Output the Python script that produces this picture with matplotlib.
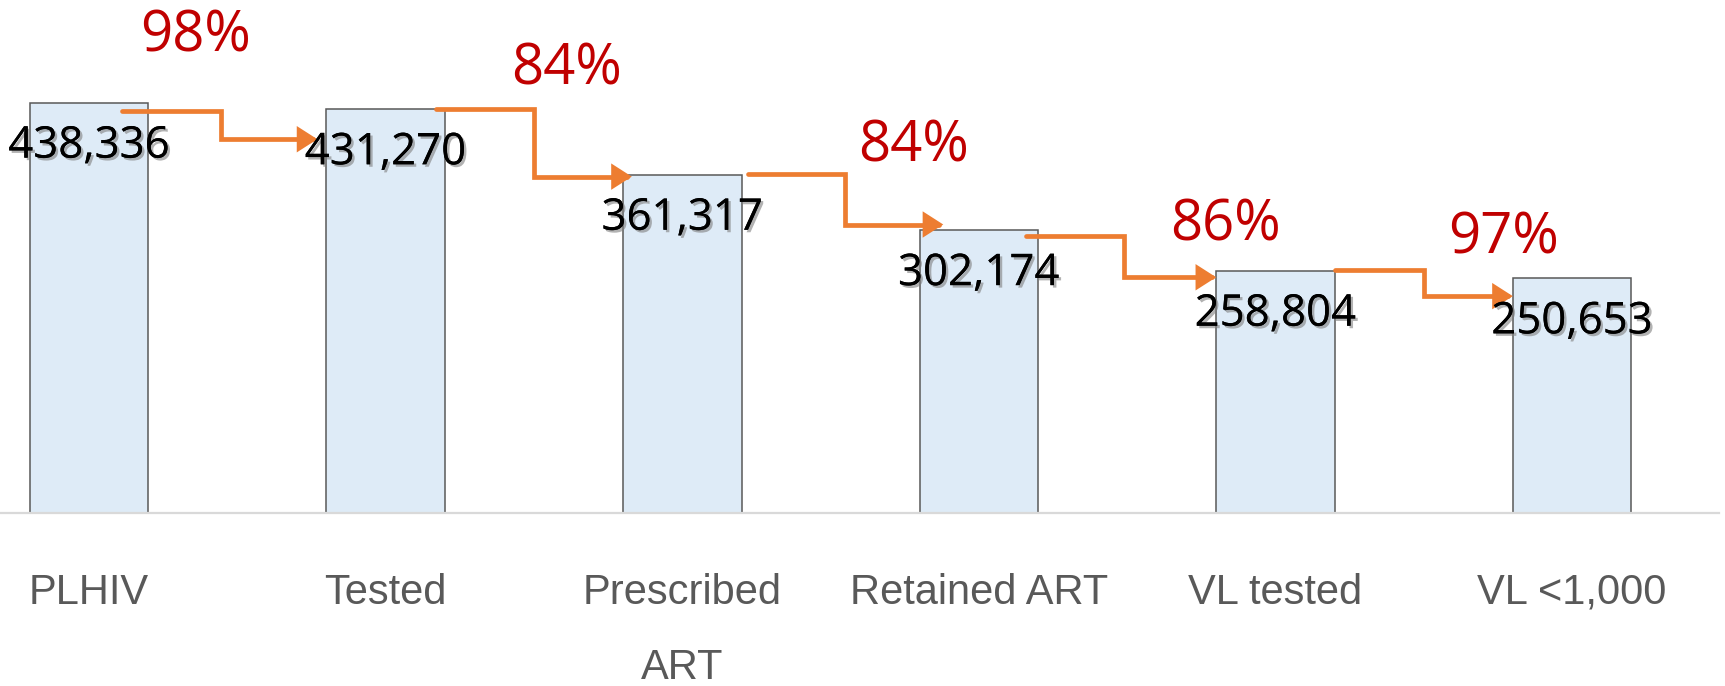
import matplotlib
matplotlib.use("Agg")
import matplotlib.pyplot as plt
import matplotlib.patheffects as pe
from matplotlib.patches import FancyArrowPatch
from matplotlib.path import Path

# ---- data ----
categories = ["PLHIV", "Tested", "Prescribed\nART", "Retained ART", "VL tested", "VL <1,000"]
values = [438336, 431270, 361317, 302174, 258804, 250653]
value_labels = ["438,336", "431,270", "361,317", "302,174", "258,804", "250,653"]
pct_labels = ["98%", "84%", "84%", "86%", "97%"]

# ---- layout tweaks (positions of the step arrows / percentage labels) ----
pct_x = [0.36, 1.61, 2.78, 3.83, 4.77]            # category units
pct_y = [508900, 473600, 391300, 306700, 292600]   # value units
arr_start_dx = [0.11, 0.17, 0.22, 0.16, 0.20]
arr_elbow_dx = [0.445, 0.50, 0.55, 0.49, 0.50]
arr_end_dx = [-0.23, -0.17, -0.12, -0.20, -0.20]
arr_start_dy = [-9000, 0, 1000, -6000, 1000]
arr_end_dy = [-32000, -2000, 6000, -7000, -19000]

BAR_FACE = "#DEEBF7"
BAR_EDGE = "#595959"
ORANGE = "#ED7D31"
RED = "#C00000"
GRAY_TXT = "#595959"

fig = plt.figure(figsize=(17.25, 6.86), dpi=100)
ax = fig.add_axes([0.0, 0.2522, 0.9965, 0.7478])

x = list(range(len(categories)))
ax.bar(x, values, width=0.40, color=BAR_FACE, edgecolor=BAR_EDGE, linewidth=1.1, zorder=2)

ax.set_xlim(-0.30, 5.495)
ax.set_ylim(0, 548000)

for s in ["top", "right", "left"]:
    ax.spines[s].set_visible(False)
ax.spines["bottom"].set_color("#D9D9D9")
ax.spines["bottom"].set_linewidth(1.6)
ax.set_yticks([])
ax.set_xticks(x)
ax.set_xticklabels(categories, fontsize=30, color=GRAY_TXT, family="Liberation Sans",
                   linespacing=2.15)
ax.tick_params(axis="x", length=0, pad=43)

shadow = [pe.withSimplePatchShadow(offset=(1.8, -1.8), shadow_rgbFace="#7f7f7f", alpha=0.6),
          pe.Normal()]
for xi, v, lab in zip(x, values, value_labels):
    ax.annotate(lab, xy=(xi, v), xytext=(0, -31.5), textcoords="offset points",
                ha="center", va="center", fontsize=31.5, family="Open Sans",
                color="black", path_effects=shadow, zorder=5)

for px, py, lab in zip(pct_x, pct_y, pct_labels):
    ax.text(px, py, lab, ha="center", va="center", fontsize=40.5, family="Open Sans",
            color=RED, zorder=5)

for i in range(len(values) - 1):
    xs = i + arr_start_dx[i]
    xe = i + arr_elbow_dx[i]
    xend = i + 1 + arr_end_dx[i]
    ys = values[i] + arr_start_dy[i]
    ye = values[i + 1] + arr_end_dy[i]
    path = Path([(xs, ys), (xe, ys), (xe, ye), (xend, ye)],
                [Path.MOVETO, Path.LINETO, Path.LINETO, Path.LINETO])
    arr = FancyArrowPatch(path=path, arrowstyle="-|>,head_length=0.5,head_width=0.32",
                          color=ORANGE, linewidth=3.4, mutation_scale=20,
                          joinstyle="miter", zorder=4)
    ax.add_patch(arr)

fig.savefig("out.png", dpi=100)
